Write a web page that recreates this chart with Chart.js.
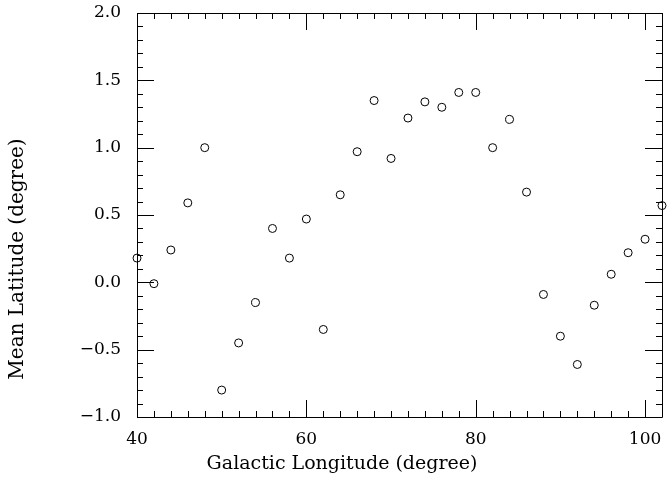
<!DOCTYPE html>
<html>
<head>
<meta charset="utf-8">
<script src="https://cdn.jsdelivr.net/npm/chart.js@4"></script>
<style>
  body { margin: 0; background: #fff; }
  #wrap { width: 667px; height: 479px; }
</style>
</head>
<body>
<div id="wrap"><canvas id="latChart" width="667" height="479"></canvas></div>
<script>
// galactic longitude (deg) and mean latitude (deg)
const longitude = [40, 42, 44, 46, 48, 50, 52, 54, 56, 58, 60, 62, 64, 66, 68, 70,
  72, 74, 76, 78, 80, 82, 84, 86, 88, 90, 92, 94, 96, 98, 100, 102];
const latitude = [0.18, -0.01, 0.24, 0.59, 1.00, -0.80, -0.45, -0.15, 0.40, 0.18, 0.47, -0.35, 0.65, 0.97, 1.35, 0.92,
  1.22, 1.34, 1.30, 1.41, 1.41, 1.00, 1.21, 0.67, -0.09, -0.40, -0.61, -0.17, 0.06, 0.22, 0.32, 0.57];

const xTickLabels = [40, 60, 80, 100];
const yTickLabels = [-1.0, -0.5, 0.0, 0.5, 1.0, 1.5, 2.0];

const xTitle = 'Galactic Longitude (degree)';
const yTitle = 'Mean Latitude (degree)';

const tickFont = { family: 'DejaVu Serif', size: 17 };

// no extra room for end labels, keep the frame where the original has it
const noPad = s => { s.paddingTop = 0; s.paddingBottom = 0; s.paddingLeft = 0; s.paddingRight = 0; };

// box + inward major/minor ticks on all four sides (PGPLOT style), axis titles
const frameTicks = {
  id: 'frameTicks',
  afterDraw(chart) {
    const { ctx, chartArea: a, scales: { x, y } } = chart;
    ctx.save();
    ctx.strokeStyle = '#000';
    ctx.lineWidth = 1;
    ctx.beginPath();
    ctx.rect(Math.round(a.left) + 0.5, Math.round(a.top) + 0.5,
      Math.round(a.right - a.left), Math.round(a.bottom - a.top));
    for (let v = 40; v <= 102; v += 2) {
      const px = Math.round(x.getPixelForValue(v)) + 0.5;
      const len = v % 20 === 0 ? 17 : 6;
      ctx.moveTo(px, a.bottom); ctx.lineTo(px, a.bottom - len);
      ctx.moveTo(px, a.top); ctx.lineTo(px, a.top + len);
    }
    for (let i = -10; i <= 20; i++) {
      const py = Math.round(y.getPixelForValue(i / 10)) + 0.5;
      const len = i % 5 === 0 ? 17 : 6;
      ctx.moveTo(a.left, py); ctx.lineTo(a.left + len, py);
      ctx.moveTo(a.right, py); ctx.lineTo(a.right - len, py);
    }
    ctx.stroke();

    // titles are centred on the page, not on the axes, in the original
    ctx.fillStyle = '#000';
    ctx.textAlign = 'center';
    ctx.textBaseline = 'middle';
    ctx.font = '19px "DejaVu Serif"';
    ctx.fillText(xTitle, 342, 464);
    ctx.font = '20px "DejaVu Serif"';
    ctx.translate(18, 259);
    ctx.rotate(-Math.PI / 2);
    ctx.fillText(yTitle, 0, 0);
    ctx.restore();
  }
};

new Chart(document.getElementById('latChart'), {
  type: 'scatter',
  data: {
    datasets: [{
      data: longitude.map((lon, i) => ({ x: lon, y: latitude[i] })),
      pointStyle: 'circle',
      pointRadius: 4,
      pointBorderWidth: 1,
      pointBorderColor: '#000',
      pointBackgroundColor: 'rgba(0,0,0,0)',
      clip: false
    }]
  },
  options: {
    responsive: false,
    animation: false,
    layout: { padding: { top: 13, right: 5, left: 0, bottom: 0 } },
    plugins: { legend: { display: false }, tooltip: { enabled: false } },
    scales: {
      x: {
        type: 'linear',
        min: 40,
        max: 102,
        afterBuildTicks: s => { s.ticks = xTickLabels.map(v => ({ value: v })); },
        afterFit: s => { s.height = 62; noPad(s); },
        grid: { display: false, drawTicks: false },
        border: { display: false },
        ticks: { font: tickFont, color: '#000', padding: 12, maxRotation: 0, autoSkip: false }
      },
      y: {
        type: 'linear',
        min: -1.0,
        max: 2.0,
        afterBuildTicks: s => { s.ticks = yTickLabels.map(v => ({ value: v })); },
        afterFit: s => { s.width = 137; noPad(s); },
        grid: { display: false, drawTicks: false },
        border: { display: false },
        ticks: {
          font: tickFont,
          color: '#000',
          padding: 16,
          autoSkip: false,
          callback: v => v.toFixed(1).replace('-', '\u2212')
        }
      }
    }
  },
  plugins: [frameTicks]
});
</script>
</body>
</html>
